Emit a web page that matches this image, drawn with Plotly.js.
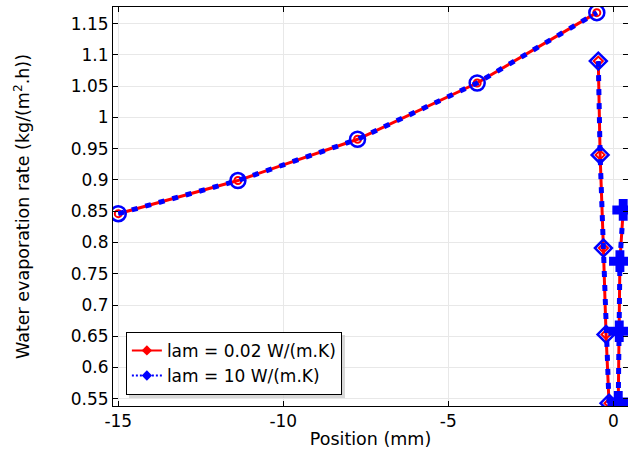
<!DOCTYPE html>
<html>
<head>
<meta charset="utf-8">
<script src="https://cdn.plot.ly/plotly-3.0.1.min.js"></script>
<style>html,body{margin:0;padding:0;background:#fff;}#chart{width:628px;height:460px;}</style>
</head>
<body>
<div id="chart"></div>
<script>
// Segment data (position in mm, evaporation rate in kg/(m2.h)); null separates boundary segments
const positionMm = [-15, -11.375, -7.75, -4.125, -0.5, null,
                    -0.455, -0.40, -0.30, -0.22, -0.13, null,
                    0.15, 0.18, 0.20, 0.30];
const rateLam002 = [0.846, 0.899, 0.965, 1.055, 1.1675, null,
                    1.090, 0.940, 0.791, 0.653, 0.543, null,
                    0.545, 0.658, 0.770, 0.852];
const rateLam10  = [0.846, 0.899, 0.965, 1.055, 1.1675, null,
                    1.090, 0.940, 0.791, 0.653, 0.543, null,
                    0.545, 0.658, 0.770, 0.852];
const seriesNames = ["lam = 0.02 W/(m.K)", "lam = 10 W/(m.K)"];
const xTickVals = [-15, -10, -5, 0];
const xTickText = ["-15", "-10", "-5", "0"];

const segSymbolsRed = ["circle-open","circle-open","circle-open","circle-open","circle-open","circle-open",
  "diamond-open","diamond-open","diamond-open","diamond-open","diamond-open","diamond-open",
  "diamond-open","diamond-open","diamond-open","diamond-open"];
const segSymbolsBlue = ["circle-open","circle-open","circle-open","circle-open","circle-open","circle-open",
  "diamond-open","diamond-open","diamond-open","diamond-open","diamond-open","diamond-open",
  "cross","cross","cross","cross"];
const segSizesBlue = [15,15,15,15,15,15, 13,13,13,13,13,13, 16,16,16,16];

const FONT = "DejaVu Sans, sans-serif";
const BLUE_DASH = "6px,8px";

const traces = [
  {
    x: positionMm, y: rateLam002, name: seriesNames[0], type: "scatter", mode: "lines+markers",
    connectgaps: false, showlegend: false,
    line: {color: "#ff0000", width: 3},
    marker: {color: "#ff0000", symbol: segSymbolsRed, size: 7, opacity: 1, line: {color: "#ff0000", width: 2}}
  },
  {
    x: positionMm, y: rateLam10, name: seriesNames[1], type: "scatter", mode: "lines+markers",
    connectgaps: false, showlegend: false,
    line: {color: "#0000ff", width: 5, dash: BLUE_DASH},
    marker: {color: "#0000ff", symbol: segSymbolsBlue, size: segSizesBlue, opacity: 1, line: {color: "#0000ff", width: 2.5}}
  },
  // legend entries
  {
    x: [null], y: [null], name: seriesNames[0], type: "scatter", mode: "lines+markers",
    line: {color: "#ff0000", width: 2},
    marker: {color: "#ff0000", symbol: "diamond", size: 8}
  },
  {
    x: [null], y: [null], name: seriesNames[1], type: "scatter", mode: "lines+markers",
    line: {color: "#0000ff", width: 2, dash: "2px,2px"},
    marker: {color: "#0000ff", symbol: "diamond", size: 8}
  }
];

const layout = {
  width: 628, height: 460,
  margin: {l: 113, r: 0, t: 7, b: 54},
  paper_bgcolor: "#ffffff", plot_bgcolor: "#ffffff",
  font: {family: FONT, size: 17, color: "#000"},
  showlegend: true,
  legend: {
    x: 0.025, y: 0.028, xanchor: "left", yanchor: "bottom",
    bgcolor: "#ffffff", bordercolor: "#000000", borderwidth: 1,
    font: {family: FONT, size: 17, color: "#000"},
    tracegroupgap: 0
  },
  xaxis: {
    range: [-15.16, 0.445],
    tickvals: xTickVals, ticktext: xTickText,
    ticks: "inside", ticklen: 5, tickcolor: "#000",
    showline: true, linecolor: "#000", linewidth: 1, mirror: "ticks",
    showgrid: true, gridcolor: "#e8e8e8", gridwidth: 1, zeroline: false,
    tickfont: {family: FONT, size: 17, color: "#000"},
    title: {text: "Position (mm)", font: {family: FONT, size: 17.5, color: "#000"}, standoff: 2}
  },
  yaxis: {
    range: [0.5385, 1.1765], dtick: 0.05, tick0: 0,
    ticks: "inside", ticklen: 5, tickcolor: "#000",
    showline: true, linecolor: "#000", linewidth: 1, mirror: "ticks",
    showgrid: true, gridcolor: "#e8e8e8", gridwidth: 1, zeroline: false,
    tickfont: {family: FONT, size: 17, color: "#000"},
    title: {text: "Water evaporation rate (kg/(m<sup>2</sup>.h))", font: {family: FONT, size: 17.5, color: "#000"}, standoff: 36}
  },
  shapes: [
    {type: "rect", xref: "paper", yref: "paper", layer: "above",
     x0: 0.031, x1: 0.4505, y0: 0.020, y1: 0.178,
     fillcolor: "#c8c8c8", line: {width: 0}, opacity: 0.7}
  ]
};

Plotly.newPlot("chart", traces, layout, {staticPlot: true, displayModeBar: false});
</script>
</body>
</html>
